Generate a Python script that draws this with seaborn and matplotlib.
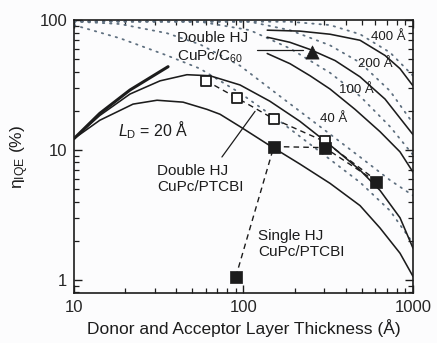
import matplotlib
matplotlib.use("Agg")
import numpy as np
import pandas as pd
import matplotlib.pyplot as plt
from matplotlib.ticker import NullFormatter, FixedLocator, LogLocator
import seaborn as sns

# model curves (thickness in A, IQE in %)
ld20_x = [10, 14.2, 22.3, 30.9, 44.0, 60.9, 72.7, 95.4, 138, 215, 324, 487, 639, 838, 1000]
ld20_y = [12.2, 16.9, 22.5, 24.1, 23.3, 20.5, 18.8, 15.1, 11.1, 7.78, 5.52, 3.72, 2.50, 1.60, 1.06]
ld40_x = [10, 14.2, 21.4, 32.2, 46.4, 63.4, 95.4, 143, 215, 324, 487, 639, 838, 1000]
ld40_y = [12.2, 18.4, 26.9, 34.0, 37.9, 37.2, 31.6, 23.7, 16.6, 10.9, 6.98, 4.87, 3.00, 1.75]
ld100_x = [138, 188, 247, 324, 455, 639, 838, 1000]
ld100_y = [55.2, 46.1, 37.2, 29.4, 20.5, 13.8, 9.65, 6.74]
ld200_x = [138, 188, 247, 347, 487, 684, 1000]
ld200_y = [73.7, 67.3, 59.3, 48.7, 36.5, 24.6, 13.1]
ld400_x = [138, 215, 324, 487, 684, 838, 1000]
ld400_y = [83.5, 82.1, 77.7, 69.8, 53.3, 42.2, 31.1]
thick_x = [10, 14.2, 21.4, 35.9]
thick_y = [12.2, 19.1, 28.9, 43.7]

dot20_x = [10, 18.7, 35.4, 55.4, 95.4, 164, 283, 487, 732, 1000]
dot20_y = [91.4, 72.3, 53.3, 42.2, 27.4, 16.6, 9.65, 5.62, 3.40, 1.91]
dot40_x = [10, 18.7, 35.4, 55.4, 95.4, 164, 283, 487, 732, 1000]
dot40_y = [97.5, 93.1, 79.1, 64.9, 44.5, 25.9, 15.1, 8.81, 5.84, 4.45]
dot100_x = [10, 55.4, 109, 188, 324, 487, 732, 1000]
dot100_y = [97.5, 97.0, 83.5, 60.4, 39.2, 25.9, 15.1, 9.14]
dot200_x = [10, 109, 188, 324, 487, 732, 1000]
dot200_y = [97.5, 97.0, 83.5, 63.8, 47.0, 28.4, 16.0]
dot400_x = [10, 188, 324, 487, 732, 1000]
dot400_y = [97.5, 97.0, 91.4, 77.7, 56.2, 37.2]

# measured devices
open_x = [60, 91, 151, 301, 600]
open_y = [34.1, 25.2, 17.3, 11.6, 5.9]
filled_x = [90, 151, 301, 605]
filled_y = [1.05, 10.6, 10.4, 5.7]
c60_x = [252]
c60_y = [57.0]

def frame(xs, ys, name):
    return pd.DataFrame({"thickness": xs, "iqe": ys, "curve": name})

solid = pd.concat([frame(ld20_x, ld20_y, "20"), frame(ld40_x, ld40_y, "40"),
                   frame(ld100_x, ld100_y, "100"), frame(ld200_x, ld200_y, "200"),
                   frame(ld400_x, ld400_y, "400")])
dotted = pd.concat([frame(dot20_x, dot20_y, "20"), frame(dot40_x, dot40_y, "40"),
                    frame(dot100_x, dot100_y, "100"), frame(dot200_x, dot200_y, "200"),
                    frame(dot400_x, dot400_y, "400")])

sns.set_theme(style="ticks")
plt.rcParams["font.family"] = ["Liberation Sans", "DejaVu Sans"]
plt.rcParams["mathtext.fontset"] = "custom"
plt.rcParams["mathtext.rm"] = "Liberation Sans"
plt.rcParams["mathtext.it"] = "Liberation Sans:italic"

ink = "#1c1c1c"
fig = plt.figure(figsize=(4.37, 3.43), dpi=100)
fig.patch.set_facecolor("#fcfcfd")
ax = fig.add_axes([0.1693, 0.1458, 0.7758, 0.7959])
ax.set_facecolor("#fcfcfd")
ax.set(xscale="log", yscale="log")

sns.lineplot(data=dotted, x="thickness", y="iqe", units="curve", estimator=None,
             sort=False, color="#5f7080", lw=1.3, linestyle=(0, (0.8, 3.2)),
             dash_capstyle="round", ax=ax)
sns.lineplot(data=solid, x="thickness", y="iqe", units="curve", estimator=None,
             sort=False, color=ink, lw=1.15, ax=ax)
sns.lineplot(x=thick_x, y=thick_y, color=ink, lw=2.2, sort=False, ax=ax)

# dashed guides through the data
sns.lineplot(x=open_x, y=open_y, color=ink, lw=1.0, sort=False,
             linestyle=(0, (4, 3)), ax=ax)
sns.lineplot(x=filled_x, y=filled_y, color=ink, lw=1.0, sort=False,
             linestyle=(0, (4, 3)), ax=ax)

sns.scatterplot(x=open_x[:4], y=open_y[:4], marker="s", s=50, facecolor="white",
                edgecolor=ink, linewidth=1.3, zorder=5, ax=ax)
sns.scatterplot(x=filled_x, y=filled_y, marker="s", s=65, color=ink,
                edgecolor=ink, linewidth=0.5, zorder=6, ax=ax)
sns.scatterplot(x=c60_x, y=c60_y, marker="^", s=90, color=ink,
                edgecolor=ink, linewidth=0.5, zorder=6, ax=ax)

ax.set_xlim(10, 1000)
ax.set_ylim(0.79, 100)
ax.xaxis.set_major_locator(FixedLocator([10, 100, 1000]))
ax.yaxis.set_major_locator(FixedLocator([1, 10, 100]))
ax.set_xticklabels(["10", "100", "1000"])
ax.set_yticklabels(["1", "10", "100"])
ax.xaxis.set_minor_locator(LogLocator(base=10, subs=np.arange(2, 10)))
ax.yaxis.set_minor_locator(LogLocator(base=10, subs=np.arange(2, 10)))
ax.xaxis.set_minor_formatter(NullFormatter())
ax.yaxis.set_minor_formatter(NullFormatter())
ax.tick_params(which="both", direction="in", top=True, right=True, color=ink)
ax.tick_params(which="major", length=6, width=1.0, labelsize=12, pad=5)
ax.tick_params(which="minor", length=3.5, width=0.9)
for sp in ax.spines.values():
    sp.set_linewidth(1.2)
    sp.set_color(ink)

ax.set_xlabel("Donor and Acceptor Layer Thickness (Å)", fontsize=12.5, labelpad=3, color=ink)
ax.set_ylabel(r"η$_{\mathrm{IQE}}$ (%)", fontsize=12.5, labelpad=6, color=ink)

ax.text(40.5, 61, "Double HJ\nCuPc/C$_{60}$", fontsize=11, ha="left", va="center",
        linespacing=1.2, color=ink)
ax.plot([120, 224], [58.7, 58.7], color=ink, lw=0.9)
ax.text(30.9, 5.93, "Double HJ\nCuPc/PTCBI", fontsize=11, ha="left", va="center",
        linespacing=1.2, color=ink)
ax.plot([74.6, 117], [8.81, 19.8], color=ink, lw=0.9)
ax.text(122, 1.89, "Single HJ\nCuPc/PTCBI", fontsize=11, ha="left", va="center",
        linespacing=1.2, color=ink)
ax.text(18.2, 14.3, r"$\mathit{L}_{\mathrm{D}}$ = 20 Å", fontsize=11.5, ha="left",
        va="center", color=ink)
for lx, ly, lab in [(711, 73.6, "400 Å"), (597, 46.2, "200 Å"),
                    (461, 28.9, "100 Å"), (342, 17.2, "40 Å")]:
    ax.text(lx, ly, lab, fontsize=9.5, ha="center", va="center", color=ink)

fig.savefig("out.png", dpi=100, facecolor=fig.get_facecolor())
